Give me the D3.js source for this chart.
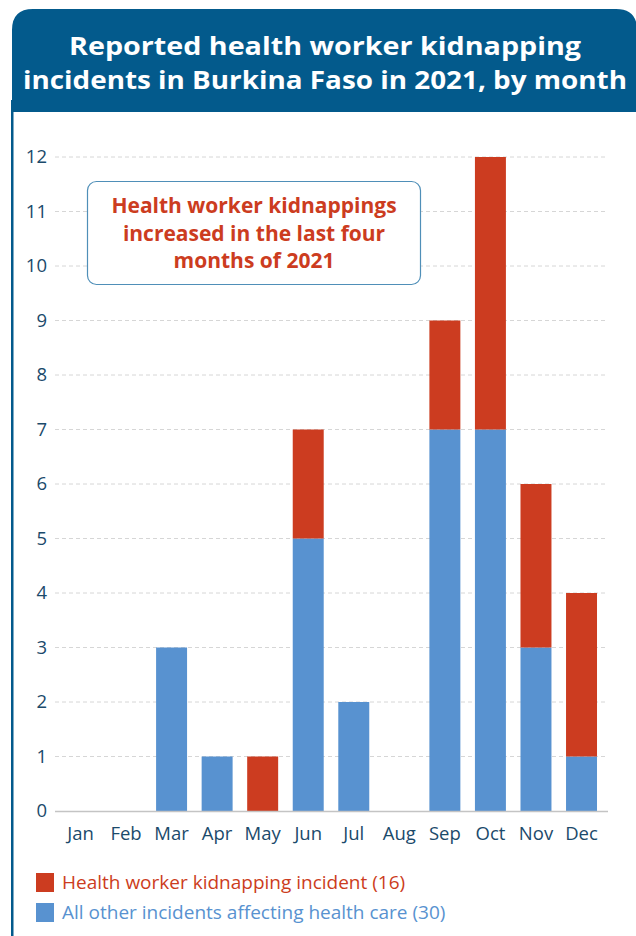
<!DOCTYPE html>
<html><head><meta charset="utf-8">
<script src="https://cdn.jsdelivr.net/npm/d3@7"></script>
<style>body{margin:0;background:#fff}svg{display:block}</style>
</head><body>
<svg id="c" width="636" height="936"></svg>
<script>
const months = ["Jan","Feb","Mar","Apr","May","Jun","Jul","Aug","Sep","Oct","Nov","Dec"];
const kidnapping = [0,0,0,0,1,2,0,0,2,5,3,3];
const otherIncidents = [0,0,3,1,0,5,2,0,7,7,3,1];
const yTicks = [0,1,2,3,4,5,6,7,8,9,10,11,12];
const titleLines = ["Reported health worker kidnapping","incidents in Burkina Faso in 2021, by month"];
const noteLines = ["Health worker kidnappings","increased in the last four","months of 2021"];
const legendItems = [
  {label:"Health worker kidnapping incident (16)", key:"red"},
  {label:"All other incidents affecting health care (30)", key:"blue"}
];

const C = {navy:"#035a8c", blue:"#5892d0", red:"#cc3c20", axis:"#1b4a6b", grid:"#d6d6d6"};
const font = "'Open Sans', sans-serif";
const svg = d3.select("#c");

// frame + banner
svg.append("path")
  .attr("d","M12,936 L12,30 Q12,9 33,9 L616,9 Q637,9 637,30 L637,112 L12,112")
  .attr("fill",C.navy);
svg.append("rect").attr("x",11).attr("y",100).attr("width",2.5).attr("height",836).attr("fill",C.navy);

svg.append("g").selectAll("text").data(titleLines).join("text")
  .attr("x",325).attr("y",(d,i)=>55+i*34)
  .attr("text-anchor","middle").attr("fill","#fff")
  .attr("font-family",font).attr("font-weight",700).attr("font-size",25)
  .attr("textLength",(d,i)=>i===0?512:604).attr("lengthAdjust","spacingAndGlyphs")
  .text(d=>d);

const x = d3.scaleBand().domain(months).range([57.7,604.3]).paddingInner(0.32).paddingOuter(0.16);
const y = d3.scaleLinear().domain([0,12]).range([811,157]);

// grid
svg.append("g").selectAll("line").data(yTicks.filter(d=>d>0)).join("line")
  .attr("x1",55).attr("x2",606).attr("y1",d=>y(d)).attr("y2",d=>y(d))
  .attr("stroke",C.grid).attr("stroke-width",1).attr("stroke-dasharray","4,3");

// y axis labels
const yAxis = d3.axisLeft(y).tickValues(yTicks).tickSize(0).tickPadding(8);
const gy = svg.append("g").attr("transform","translate(55,0)").call(yAxis);
gy.select(".domain").remove();
gy.selectAll("text").attr("font-family",font).attr("font-size",18.5).attr("fill",C.axis);

// bars
const rows = months.map((m,i)=>({m, blue:otherIncidents[i], red:kidnapping[i]}));
const stack = d3.stack().keys(["blue","red"])(rows);
svg.append("g").selectAll("g").data(stack).join("g")
  .attr("fill",d=>d.key==="blue"?C.blue:C.red)
  .selectAll("rect").data(d=>d.filter(v=>v[1]>v[0])).join("rect")
  .attr("x",d=>x(d.data.m)).attr("width",x.bandwidth())
  .attr("y",d=>y(d[1])).attr("height",d=>y(d[0])-y(d[1]));

// baseline
svg.append("line").attr("x1",55).attr("x2",608).attr("y1",811.5).attr("y2",811.5)
  .attr("stroke","#c4c4c4").attr("stroke-width",1.5);

// x axis
const xAxis = d3.axisBottom(x).tickSize(0).tickPadding(16);
const gx = svg.append("g").attr("transform","translate(0,811)").call(xAxis);
gx.select(".domain").remove();
gx.selectAll("text").attr("font-family",font).attr("font-size",18.5).attr("fill",C.axis);

// annotation box
svg.append("rect").attr("x",87.5).attr("y",181.5).attr("width",333).attr("height",103)
  .attr("rx",9).attr("fill","#fff").attr("stroke","#4f8fb8").attr("stroke-width",1.2);
svg.append("g").selectAll("text").data(noteLines).join("text")
  .attr("x",254).attr("y",(d,i)=>213+i*27.5)
  .attr("text-anchor","middle").attr("fill",C.red)
  .attr("font-family",font).attr("font-weight",700).attr("font-size",21)
  .text(d=>d);

// legend
const lg = svg.append("g").selectAll("g").data(legendItems).join("g")
  .attr("transform",(d,i)=>`translate(36,${873+i*30})`);
lg.append("rect").attr("width",18).attr("height",19).attr("fill",d=>d.key==="red"?C.red:C.blue);
lg.append("text").attr("x",26).attr("y",16).attr("font-family",font).attr("font-size",19)
  .attr("fill",d=>d.key==="red"?C.red:C.blue).text(d=>d.label);
</script>
</body></html>
